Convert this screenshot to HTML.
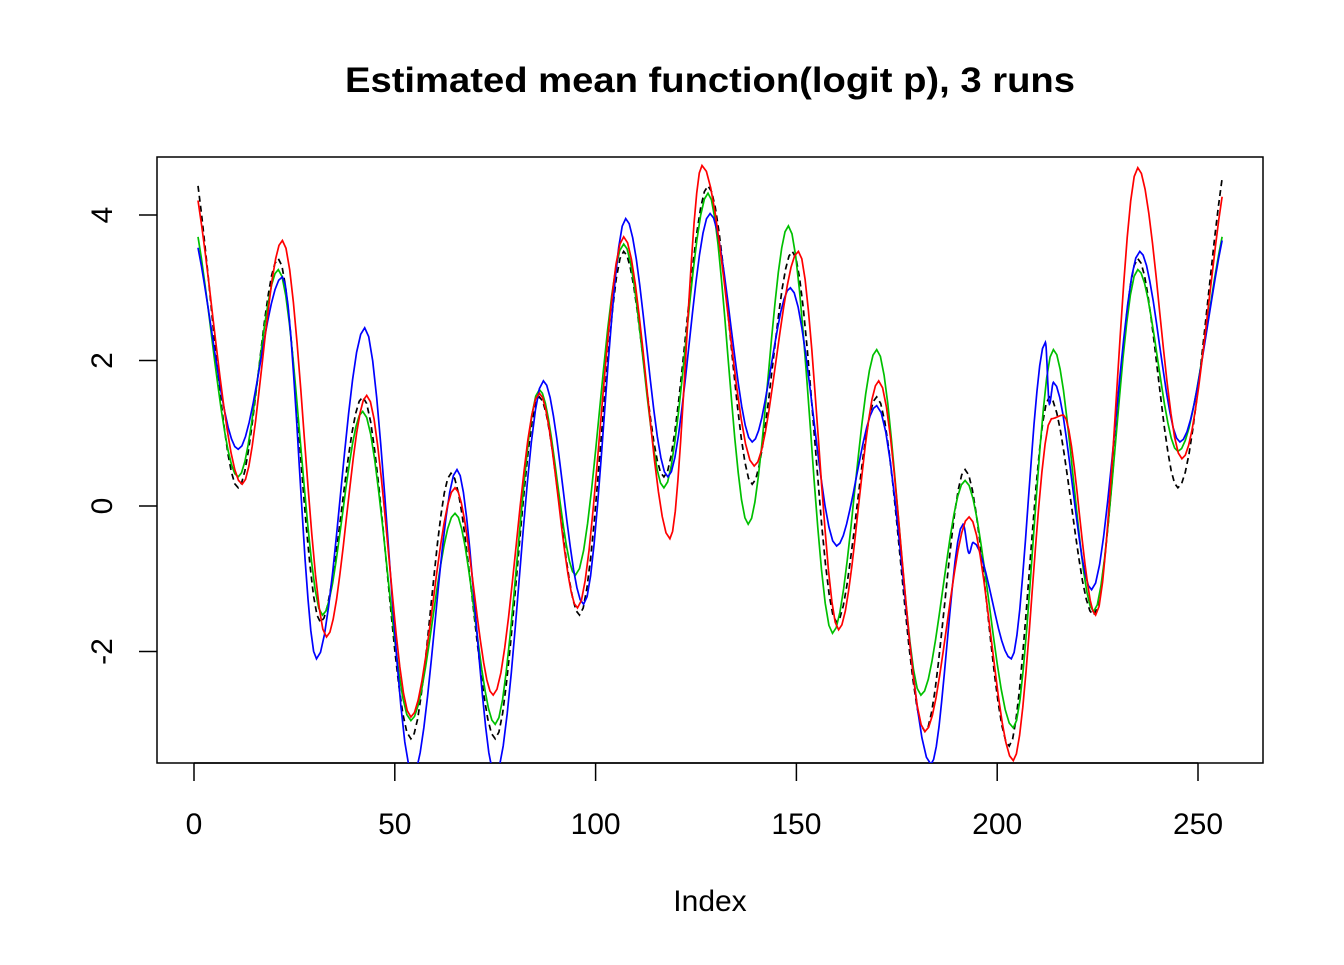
<!DOCTYPE html>
<html><head><meta charset="utf-8"><style>
body{margin:0;background:#fff}
svg text{font-family:"Liberation Sans",Arial,sans-serif}
</style></head><body>
<svg id="c" width="1344" height="960">
<defs><clipPath id="clip"><rect x="157" y="157" width="1106" height="606"/></clipPath></defs>
</svg>
<script>
// data: knots (index, value) for each series
const blackX=[1,11,21,31.5,42,54,64,75,86,96,107,117,128,139,149,160,170,182,192,203,213,224,235,245,256];
const blackY=[4.4,0.25,3.4,-1.6,1.5,-3.2,0.45,-3.2,1.5,-1.5,3.5,0.4,4.4,0.3,3.5,-1.6,1.5,-3.1,0.5,-3.3,1.5,-1.5,3.4,0.25,4.5];
const greenX=[1,11,21,32,42,54,65,75,86,95,107,117,128,138,148,159,170,181,192,204,214,224,235,245,256];
const greenY=[3.7,0.4,3.25,-1.5,1.3,-2.95,-0.1,-3.0,1.6,-0.95,3.6,0.25,4.3,-0.25,3.85,-1.75,2.15,-2.6,0.35,-3.05,2.15,-1.45,3.25,0.75,3.7];
const blueX=[1,11,22,30.5,42.5,54.5,65.5,75,87,97,107.5,118,128.5,139,148.5,160,170,183.5,191.5,193,194,203.5,212,213,214,223.5,235.5,245.5,256];
const blueY=[3.55,0.78,3.15,-2.1,2.45,-3.7,0.5,-3.7,1.72,-1.35,3.95,0.4,4.02,0.88,3.0,-0.55,1.38,-3.55,-0.25,-0.65,-0.5,-2.1,2.25,1.4,1.7,-1.15,3.5,0.88,3.65];
const redX=[1,12,22,33,43,54,65,74.5,86,95.5,107,118.5,126.5,139.5,150.5,160.5,170.5,182,193,204,213.5,216.5,224.5,235,246,256];
const redY=[4.2,0.3,3.65,-1.8,1.52,-2.9,0.25,-2.6,1.55,-1.4,3.7,-0.45,4.68,0.55,3.5,-1.7,1.72,-3.1,-0.15,-3.5,1.2,1.25,-1.5,4.65,0.65,4.25];
const xTicks=[0,50,100,150,200,250];
const yTicks=[-2,0,2,4];

const NS="http://www.w3.org/2000/svg";
const svg=document.getElementById('c');
const sx=v=>194+v*4.016;
const sy=v=>506-v*72.75;
function mk(tag,attrs,parent){const e=document.createElementNS(NS,tag);for(const k in attrs)e.setAttribute(k,attrs[k]);(parent||svg).appendChild(e);return e;}

let t=mk('text',{x:710,y:92,'text-anchor':'middle','font-size':'35','font-weight':'bold',textLength:730,lengthAdjust:'spacingAndGlyphs'});


t.textContent='Estimated mean function(logit p), 3 runs';
let fr=mk('rect',{x:157,y:157,width:1106,height:606,fill:'none',stroke:'#000','stroke-width':1.5});


mk('line',{x1:sx(0),x2:sx(250),y1:763,y2:763,stroke:'#000','stroke-width':1.5});
xTicks.forEach(v=>{
 mk('line',{x1:sx(v),x2:sx(v),y1:763,y2:781,stroke:'#000','stroke-width':1.5});
 const l=mk('text',{x:sx(v),y:834,'text-anchor':'middle','font-size':'30'});
 
 
 l.textContent=v;
});
yTicks.forEach(v=>{
 mk('line',{x1:139,x2:157,y1:sy(v),y2:sy(v),stroke:'#000','stroke-width':1.5});
 const l=mk('text',{x:112,y:sy(v),'text-anchor':'middle','font-size':'30',transform:`rotate(-90 112 ${sy(v)})`});
 
 
 l.textContent=v;
});
let xl=mk('text',{x:710,y:911,'text-anchor':'middle','font-size':'30'});


xl.textContent='Index';

function pathFor(X,Y){
 const n=X.length;const m=X.map((_,i)=>(i==0?(Y[1]-Y[0])/(X[1]-X[0]):i==n-1?(Y[n-1]-Y[n-2])/(X[n-1]-X[n-2]):0));
 let d=`M${sx(X[0])},${sy(Y[0])}`;
 for(let i=0;i<n-1;i++){const h=X[i+1]-X[i];
  for(let s=1;s<=12;s++){const u=s/12,h00=2*u*u*u-3*u*u+1,h10=u*u*u-2*u*u+u,h01=-2*u*u*u+3*u*u,h11=u*u*u-u*u;
   const y=h00*Y[i]+h10*h*m[i]+h01*Y[i+1]+h11*h*m[i+1];d+=`L${sx(X[i]+u*h).toFixed(1)},${sy(y).toFixed(1)}`;}}
 return d;
}
const g=mk('g',{'clip-path':'url(#clip)'});
[[blackX,blackY,'#000','6,4','true-mean-line'],[greenX,greenY,'#00c000',null,'run-1-line'],[blueX,blueY,'#0000ff',null,'run-2-line'],[redX,redY,'#ff0000',null,'run-3-line']].forEach(s=>{
 const p=mk('path',{d:pathFor(s[0],s[1]),fill:'none',stroke:s[2],'stroke-width':1.7},g);
 if(s[3])p.setAttribute('stroke-dasharray',s[3]);
 
 
});
</script>
</body></html>
